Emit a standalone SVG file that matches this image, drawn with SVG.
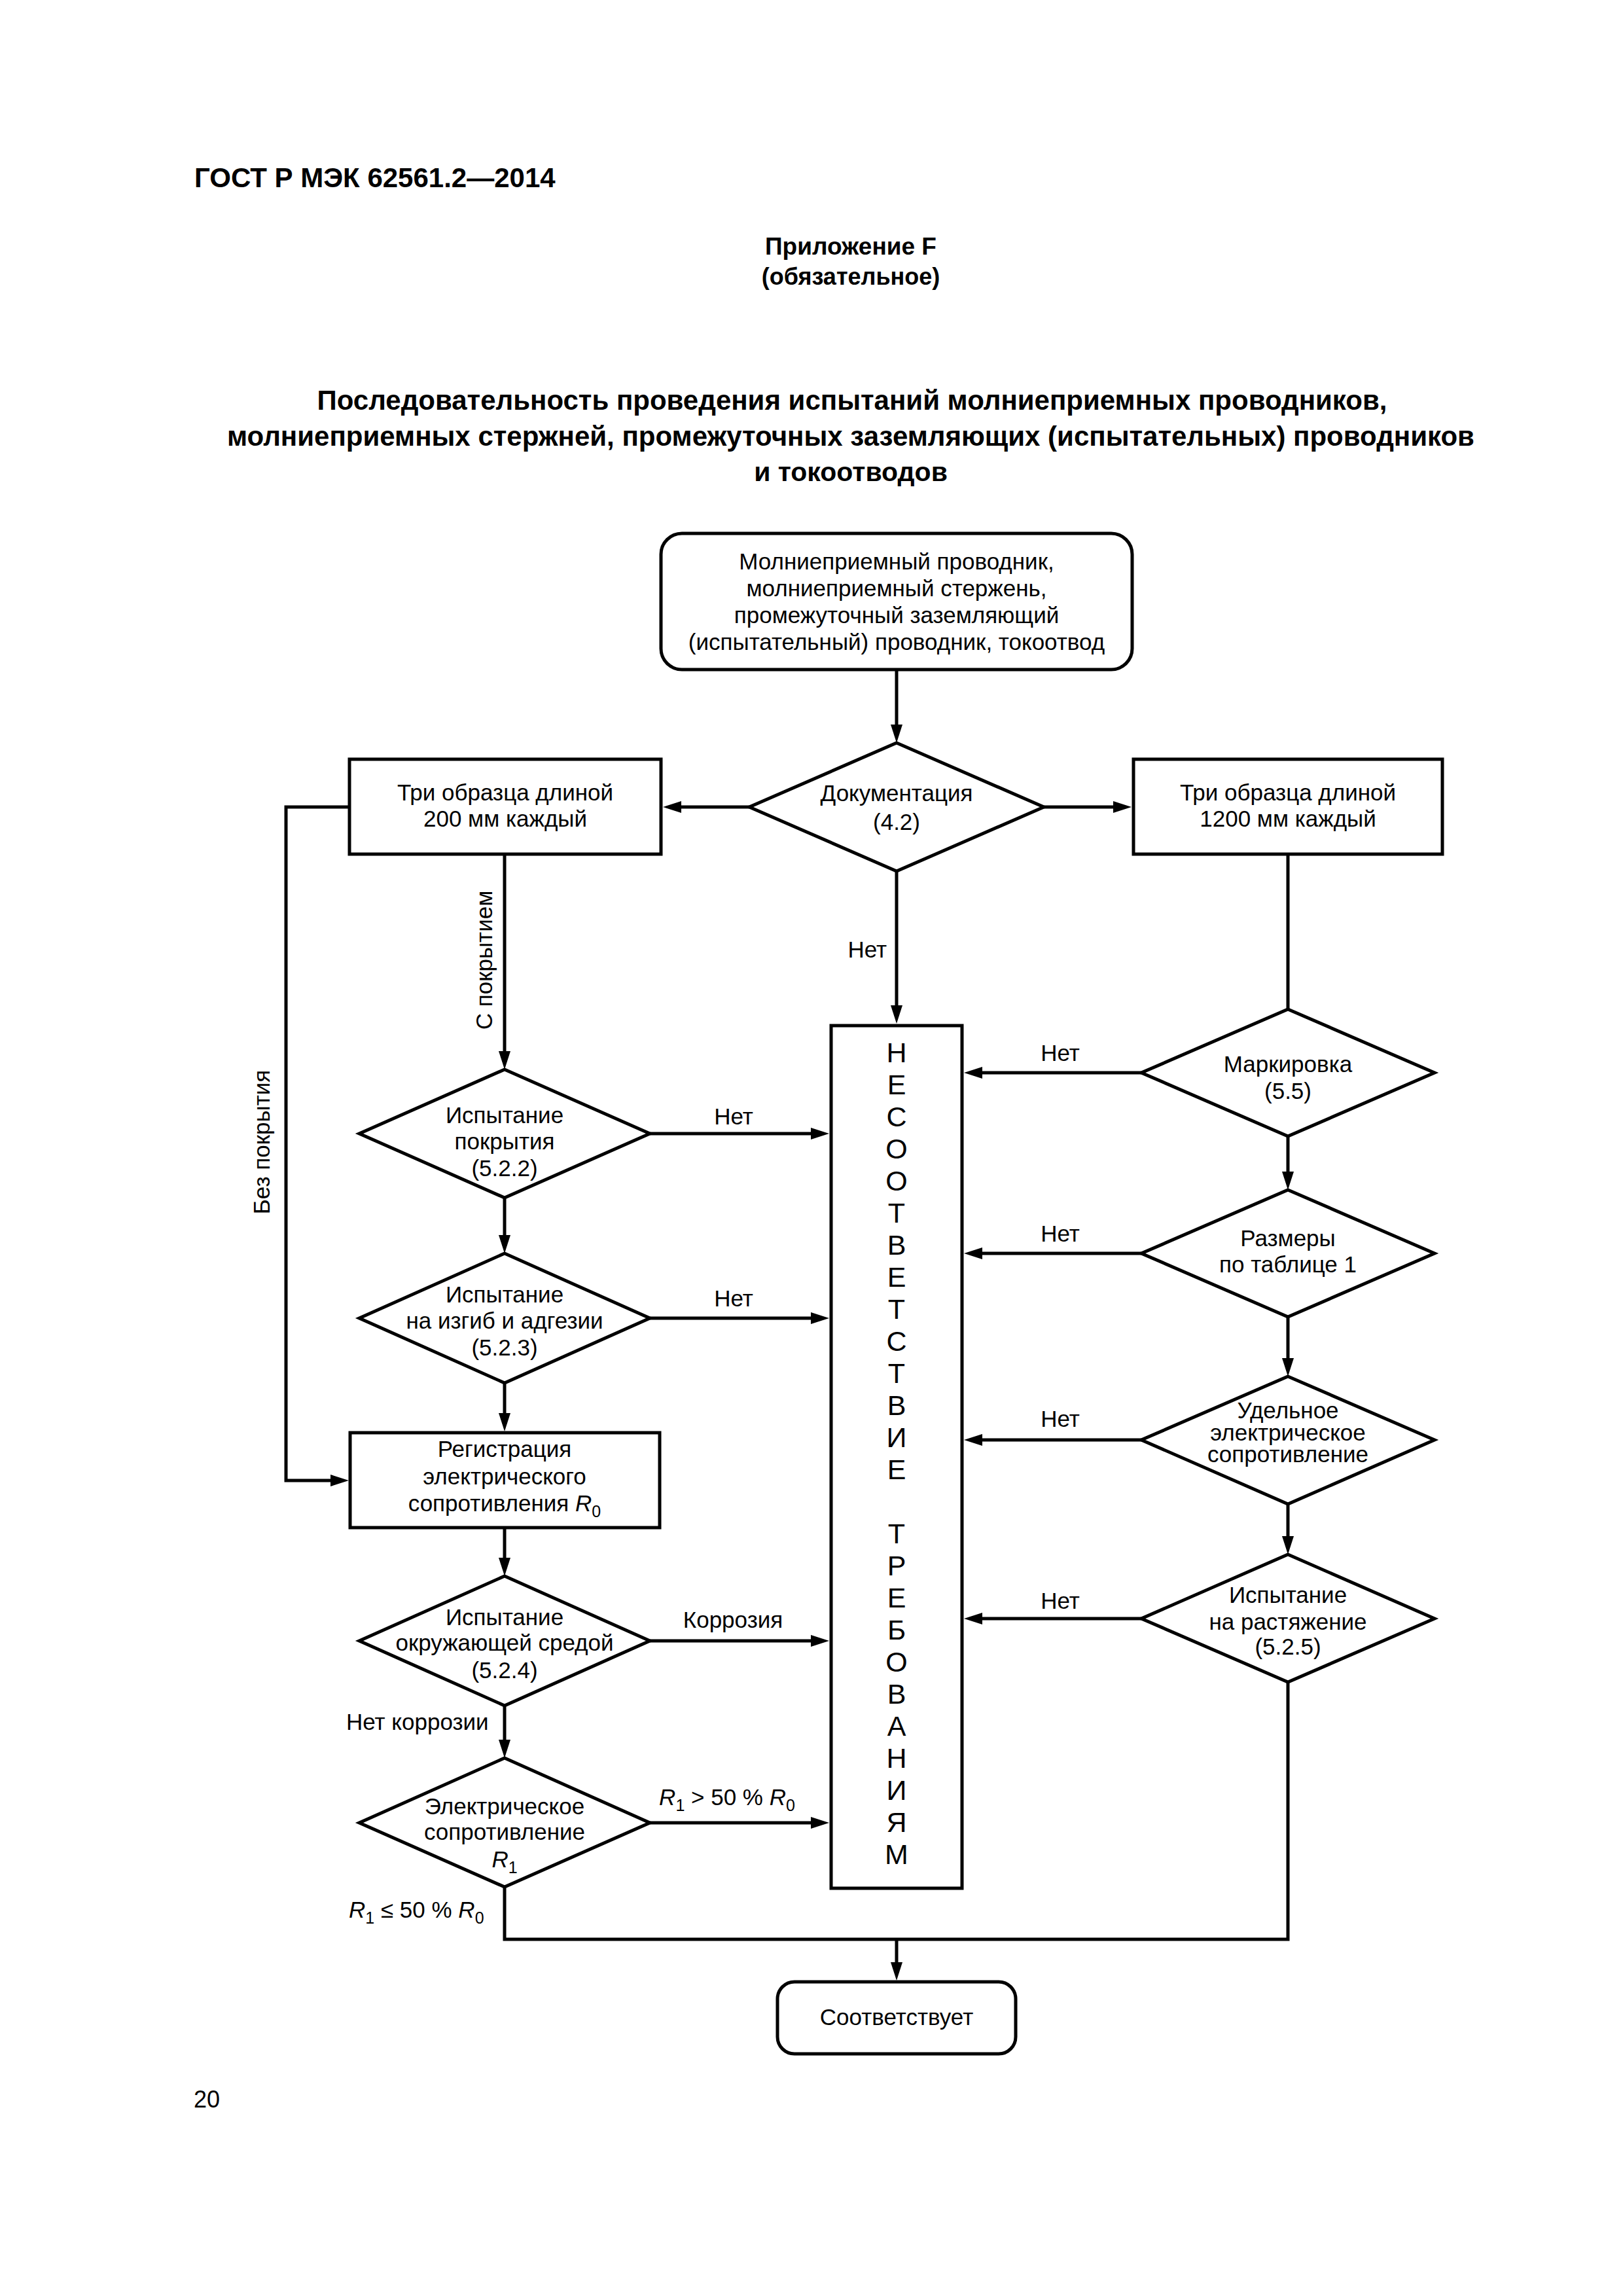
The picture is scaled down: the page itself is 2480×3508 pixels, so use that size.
<svg xmlns="http://www.w3.org/2000/svg" width="2480" height="3508" viewBox="0 0 2480 3508">
<defs>
<style>
text { font-family: "Liberation Sans", Arial, Helvetica, sans-serif; fill: #000; }
.t { font-size: 35px; text-anchor: middle; }
.l { font-size: 35px; }
.e { font-size: 35px; text-anchor: end; }
.hd { font-weight: bold; }
.shape { fill: #fff; stroke: #000; stroke-width: 5; stroke-linejoin: miter; }
.c { fill: none; stroke: #000; stroke-width: 5; stroke-linejoin: miter; }
.a { marker-end: url(#ah); }
.v { font-size: 43px; text-anchor: middle; }
.i { font-style: italic; }
.s { font-size: 25px; }
</style>
<marker id="ah" viewBox="0 0 28 20" markerWidth="28" markerHeight="20" markerUnits="userSpaceOnUse" refX="8" refY="10" orient="auto"><path d="M0,1 L28,10 L0,19 Z" fill="#000"/></marker>
</defs>
<rect x="0" y="0" width="2480" height="3508" fill="#fff"/>

<g id="header">
<text class="hd" x="297" y="286" font-size="42">ГОСТ Р МЭК 62561.2—2014</text>
<text class="hd" x="1300" y="389" font-size="37" text-anchor="middle">Приложение F</text>
<text class="hd" x="1300" y="435" font-size="36" text-anchor="middle">(обязательное)</text>
<text class="hd" x="1302" y="626" font-size="42" text-anchor="middle">Последовательность проведения испытаний молниеприемных проводников,</text>
<text class="hd" x="1300" y="681" font-size="42" text-anchor="middle">молниеприемных стержней, промежуточных заземляющих (испытательных) проводников</text>
<text class="hd" x="1300" y="735" font-size="41" text-anchor="middle">и токоотводов</text>
</g>

<g id="connectors">
<path class="c a" d="M1370,1023 V1115"/>
<path class="c a" d="M1145,1233 H1033"/>
<path class="c a" d="M1595,1233 H1709"/>
<path class="c a" d="M1370,1331 V1544"/>
<path class="c a" d="M771,1305 V1614"/>
<path class="c a" d="M534,1233 H437 V2262 H513"/>
<path class="c a" d="M993,1732 H1247"/>
<path class="c a" d="M771,1830 V1895"/>
<path class="c a" d="M993,2014 H1247"/>
<path class="c a" d="M771,2113 V2167"/>
<path class="c a" d="M771,2334 V2388"/>
<path class="c a" d="M993,2507 H1247"/>
<path class="c a" d="M771,2606 V2666"/>
<path class="c a" d="M993,2785 H1247"/>
<path class="c" d="M771,2883 V2963 H1968 V2570"/>
<path class="c a" d="M1370,2963 V3006"/>
<path class="c" d="M1968,1305 V1542"/>
<path class="c a" d="M1744,1639 H1493"/>
<path class="c a" d="M1968,1736 V1798"/>
<path class="c a" d="M1744,1915 H1493"/>
<path class="c a" d="M1968,2012 V2083"/>
<path class="c a" d="M1744,2200 H1493"/>
<path class="c a" d="M1968,2298 V2355"/>
<path class="c a" d="M1744,2473 H1493"/>
<text class="e" x="1355" y="1463">Нет</text>
<text class="t" x="1121" y="1718">Нет</text>
<text class="t" x="1121" y="1996">Нет</text>
<text class="t" x="1120" y="2487">Коррозия</text>
<text class="t" x="1111" y="2758"><tspan class="i">R</tspan><tspan class="s" dy="9">1</tspan><tspan dy="-9"> &gt; 50 % </tspan><tspan class="i">R</tspan><tspan class="s" dy="9">0</tspan></text>
<text class="l" x="529" y="2643">Нет коррозии</text>
<text class="l" x="533" y="2930"><tspan class="i">R</tspan><tspan class="s" dy="9">1</tspan><tspan dy="-9"> ≤ 50 % </tspan><tspan class="i">R</tspan><tspan class="s" dy="9">0</tspan></text>
<text class="t" x="1620" y="1621">Нет</text>
<text class="t" x="1620" y="1897">Нет</text>
<text class="t" x="1620" y="2180">Нет</text>
<text class="t" x="1620" y="2458">Нет</text>
<text class="t" transform="translate(752,1467) rotate(-90)">С покрытием</text>
<text class="t" transform="translate(412,1745) rotate(-90)">Без покрытия</text>
</g>

<g id="start">
<rect class="shape" x="1010" y="815" width="720" height="208" rx="32" ry="32"/>
<text class="t" x="1370" y="870">Молниеприемный проводник,</text>
<text class="t" x="1370" y="911">молниеприемный стержень,</text>
<text class="t" x="1370" y="952">промежуточный заземляющий</text>
<text class="t" x="1370" y="993">(испытательный) проводник, токоотвод</text>
</g>

<g id="doc">
<polygon class="shape" points="1370,1135 1595,1233 1370,1331 1145,1233"/>
<text class="t" x="1370" y="1224">Документация</text>
<text class="t" x="1370" y="1268">(4.2)</text>
</g>

<g id="samples200">
<rect class="shape" x="534" y="1160" width="476" height="145"/>
<text class="t" x="772" y="1223">Три образца длиной</text>
<text class="t" x="772" y="1263">200 мм каждый</text>
</g>

<g id="samples1200">
<rect class="shape" x="1732" y="1160" width="472" height="145"/>
<text class="t" x="1968" y="1223">Три образца длиной</text>
<text class="t" x="1968" y="1263">1200 мм каждый</text>
</g>

<g id="nonconform">
<rect class="shape" x="1270" y="1567" width="200" height="1318"/>
<text class="v"><tspan x="1370" y="1623">Н</tspan><tspan x="1370" y="1672">Е</tspan><tspan x="1370" y="1721">С</tspan><tspan x="1370" y="1770">О</tspan><tspan x="1370" y="1819">О</tspan><tspan x="1370" y="1868">Т</tspan><tspan x="1370" y="1917">В</tspan><tspan x="1370" y="1966">Е</tspan><tspan x="1370" y="2015">Т</tspan><tspan x="1370" y="2064">С</tspan><tspan x="1370" y="2113">Т</tspan><tspan x="1370" y="2162">В</tspan><tspan x="1370" y="2211">И</tspan><tspan x="1370" y="2260">Е</tspan><tspan x="1370" y="2358">Т</tspan><tspan x="1370" y="2407">Р</tspan><tspan x="1370" y="2456">Е</tspan><tspan x="1370" y="2505">Б</tspan><tspan x="1370" y="2554">О</tspan><tspan x="1370" y="2603">В</tspan><tspan x="1370" y="2652">А</tspan><tspan x="1370" y="2701">Н</tspan><tspan x="1370" y="2750">И</tspan><tspan x="1370" y="2799">Я</tspan><tspan x="1370" y="2848">М</tspan></text>
</g>

<g id="coating">
<polygon class="shape" points="771,1634 993,1732 771,1830 549,1732"/>
<text class="t" x="771" y="1716">Испытание</text>
<text class="t" x="771" y="1756">покрытия</text>
<text class="t" x="771" y="1797">(5.2.2)</text>
</g>

<g id="bend">
<polygon class="shape" points="771,1915 993,2014 771,2113 549,2014"/>
<text class="t" x="771" y="1990">Испытание</text>
<text class="t" x="771" y="2030">на изгиб и адгезии</text>
<text class="t" x="771" y="2071">(5.2.3)</text>
</g>

<g id="register">
<rect class="shape" x="535" y="2189" width="473" height="145"/>
<text class="t" x="771" y="2226">Регистрация</text>
<text class="t" x="771" y="2268">электрического</text>
<text class="t" x="771" y="2309">сопротивления <tspan class="i">R</tspan><tspan class="s" dy="9">0</tspan></text>
</g>

<g id="environment">
<polygon class="shape" points="771,2408 993,2507 771,2606 549,2507"/>
<text class="t" x="771" y="2483">Испытание</text>
<text class="t" x="771" y="2522">окружающей средой</text>
<text class="t" x="771" y="2564">(5.2.4)</text>
</g>

<g id="resistance">
<polygon class="shape" points="771,2686 993,2785 771,2883 549,2785"/>
<text class="t" x="771" y="2772">Электрическое</text>
<text class="t" x="771" y="2811">сопротивление</text>
<text class="t" x="771" y="2853"><tspan class="i">R</tspan><tspan class="s" dy="9">1</tspan></text>
</g>

<g id="marking">
<polygon class="shape" points="1968,1542 2192,1639 1968,1736 1744,1639"/>
<text class="t" x="1968" y="1638">Маркировка</text>
<text class="t" x="1968" y="1679">(5.5)</text>
</g>

<g id="dimensions">
<polygon class="shape" points="1968,1818 2192,1915 1968,2012 1744,1915"/>
<text class="t" x="1968" y="1904">Размеры</text>
<text class="t" x="1968" y="1944">по таблице 1</text>
</g>

<g id="resistivity">
<polygon class="shape" points="1968,2103 2192,2200 1968,2298 1744,2200"/>
<text class="t" x="1968" y="2167">Удельное</text>
<text class="t" x="1968" y="2201">электрическое</text>
<text class="t" x="1968" y="2234">сопротивление</text>
</g>

<g id="tensile">
<polygon class="shape" points="1968,2375 2192,2473 1968,2570 1744,2473"/>
<text class="t" x="1968" y="2449">Испытание</text>
<text class="t" x="1968" y="2490">на растяжение</text>
<text class="t" x="1968" y="2528">(5.2.5)</text>
</g>

<g id="conform">
<rect class="shape" x="1188" y="3028" width="364" height="110" rx="26" ry="26"/>
<text class="t" x="1370" y="3094">Соответствует</text>
</g>

<text x="296" y="3220" font-size="36">20</text>
</svg>
